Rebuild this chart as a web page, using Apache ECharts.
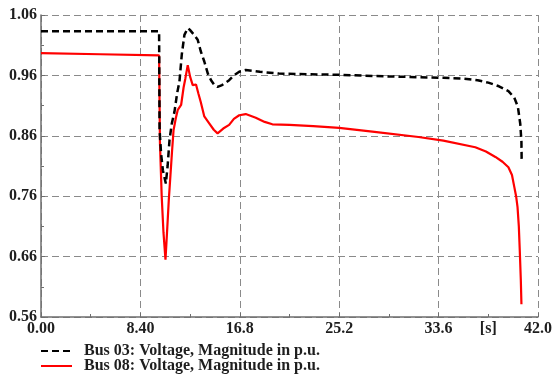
<!DOCTYPE html>
<html>
<head>
<meta charset="utf-8">
<script src="https://cdn.jsdelivr.net/npm/echarts@6/dist/echarts.min.js"></script>
<style>
html,body{margin:0;padding:0;background:#fff;}
#chart{width:555px;height:376px;}
</style>
</head>
<body>
<div id="chart"></div>
<script>
// ---- data ----
const seriesNames = ['Bus 03: Voltage, Magnitude in p.u.', 'Bus 08: Voltage, Magnitude in p.u.'];
const xTickLabels = ['0.00', '8.40', '16.8', '25.2', '33.6', '42.0'];
const xUnitLabel = '[s]';
// Bus 03 (time s, voltage p.u.)
const bus03 = [
  [0, 1.033], [9.98, 1.033], [10.0, 1.030], [10.02, 0.870], [10.15, 0.830], [10.3, 0.803],
  [10.55, 0.781], [10.7, 0.810], [10.86, 0.853], [11.05, 0.880], [11.28, 0.900],
  [11.5, 0.930], [11.7, 0.950], [11.9, 0.995], [12.12, 1.027], [12.4, 1.038],
  [12.6, 1.035], [12.9, 1.028], [13.24, 1.019], [13.5, 1.000], [13.8, 0.983],
  [14.1, 0.963], [14.37, 0.952], [14.65, 0.944], [14.92, 0.941], [15.3, 0.944],
  [15.9, 0.952], [16.3, 0.960], [16.75, 0.966], [17.3, 0.969], [18.5, 0.966],
  [20.1, 0.963], [22.5, 0.962], [25.2, 0.961], [28.0, 0.959], [31.9, 0.957],
  [34.0, 0.956], [35.5, 0.955], [36.9, 0.952], [37.8, 0.948], [38.7, 0.942],
  [39.5, 0.934], [40.0, 0.923], [40.3, 0.908], [40.5, 0.880], [40.6, 0.850], [40.62, 0.818]
];
// Bus 08 (time s, voltage p.u.)
const bus08 = [
  [0, 0.997], [5.0, 0.995], [9.98, 0.993], [10.0, 0.990], [10.05, 0.850], [10.2, 0.760],
  [10.35, 0.700], [10.52, 0.655], [10.65, 0.700], [10.8, 0.754], [11.08, 0.836],
  [11.2, 0.869], [11.4, 0.890], [11.56, 0.903], [11.84, 0.911], [12.05, 0.940],
  [12.2, 0.955], [12.4, 0.977], [12.6, 0.958], [12.82, 0.944], [13.1, 0.945],
  [13.3, 0.930], [13.5, 0.916], [13.8, 0.892], [14.2, 0.881], [14.6, 0.870],
  [14.92, 0.864], [15.4, 0.872], [15.9, 0.878], [16.3, 0.888], [16.75, 0.894],
  [17.3, 0.896], [18.15, 0.890], [18.9, 0.883], [19.55, 0.879], [21.0, 0.878],
  [23.0, 0.876], [25.2, 0.873], [28.0, 0.867], [31.9, 0.858], [34.0, 0.852],
  [36.7, 0.841], [37.6, 0.834], [38.4, 0.825], [39.0, 0.817], [39.5, 0.808],
  [39.8, 0.795], [40.0, 0.775], [40.15, 0.760], [40.27, 0.742], [40.38, 0.710],
  [40.46, 0.670], [40.55, 0.620], [40.6, 0.581]
];

const labelFont = {fontFamily: '"Liberation Serif", "Times New Roman", serif', fontWeight: 'bold', fontSize: 16, color: '#1e1e1e'};
const gridLine = {show: true, lineStyle: {color: '#8a8a8a', width: 1, type: [7, 4]}};

const chart = echarts.init(document.getElementById('chart'), null, {renderer: 'canvas'});
function legendFor(i, top) {
  return {
    orient: 'horizontal', left: 40, top: top, padding: 0, itemGap: 6,
    itemWidth: 31, itemHeight: 14,
    itemStyle: {opacity: 0},
    textStyle: Object.assign({padding: [0, 0, 0, 7]}, labelFont),
    data: [{name: seriesNames[i]}]
  };
}
const option = {
  backgroundColor: '#ffffff',
  animation: false,
  grid: {left: 41, right: 15, top: 15, bottom: 59, containLabel: false},
  xAxis: {
    type: 'value', min: 0, max: 42, interval: 8.4,
    axisLine: {show: true, lineStyle: {color: '#6e6e6e', width: 1.5}},
    axisTick: {show: true, inside: true, length: 4, lineStyle: {color: '#6e6e6e'}},
    minorTick: {show: true, splitNumber: 2, length: 3, lineStyle: {color: '#6e6e6e'}},
    axisLabel: Object.assign({margin: 4, formatter: v => xTickLabels[Math.round(v / 8.4)] || ''}, labelFont),
    splitLine: gridLine
  },
  yAxis: {
    type: 'value', min: 0.56, max: 1.06, interval: 0.1,
    axisLine: {show: true, lineStyle: {color: '#6e6e6e', width: 1.5}},
    axisTick: {show: true, inside: true, length: 4, lineStyle: {color: '#6e6e6e'}},
    minorTick: {show: true, splitNumber: 2, length: 3, lineStyle: {color: '#6e6e6e'}},
    axisLabel: Object.assign({margin: 4, formatter: v => v.toFixed(2)}, labelFont),
    splitLine: gridLine
  },
  legend: [legendFor(0, 343), legendFor(1, 358)],
  series: [
    {
      name: seriesNames[0], type: 'line', data: bus03, showSymbol: false, symbol: 'none',
      lineStyle: {color: '#000000', width: 2.5, type: [7, 4]}, itemStyle: {color: '#000000'}, z: 3
    },
    {
      name: seriesNames[1], type: 'line', data: bus08, showSymbol: false, symbol: 'none',
      lineStyle: {color: '#ff0000', width: 2.2}, itemStyle: {color: '#ff0000'}, z: 2
    }
  ]
};
chart.setOption(option);
const px = chart.convertToPixel({xAxisIndex: 0}, 37.8);
const py = chart.convertToPixel({yAxisIndex: 0}, 0.56);
chart.setOption({
  graphic: [{
    type: 'text', x: px, y: py + 4,
    style: {text: xUnitLabel, align: 'center', verticalAlign: 'top',
      font: 'bold 16px "Liberation Serif", serif', fill: '#1e1e1e'}
  }]
});
</script>
</body>
</html>
